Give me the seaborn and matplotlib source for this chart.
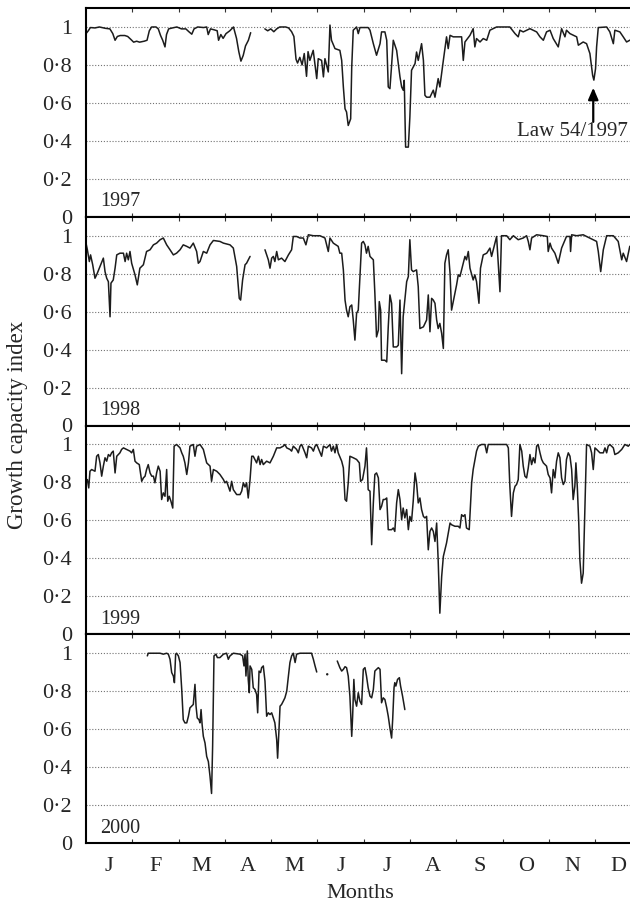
import numpy as np
import pandas as pd
import matplotlib
matplotlib.use("Agg")
import matplotlib.pyplot as plt
import seaborn as sns

# Daily growth capacity index, (day of year, index); GAP marks missing records
GAP = (np.nan, np.nan)

gci_1997 = [
    (0, 0.965), (1.5, 0.98), (2.9, 0.997), (5.9, 0.995), (8.8, 1.0), (12.7, 0.993),
    (15.7, 0.99), (17.6, 0.965), (19.1, 0.93), (20.6, 0.95), (22.5, 0.955), (25.5, 0.955),
    (27.4, 0.95), (29.4, 0.935), (31.3, 0.92), (33.3, 0.925), (35.2, 0.92), (38.2, 0.925),
    (40.1, 0.93), (41.6, 0.98), (43.1, 1.0), (46.0, 1.0), (47.5, 0.99), (49.0, 0.955),
    (50.4, 0.93), (51.9, 0.895), (52.9, 0.96), (54.3, 0.99), (56.8, 0.995), (59.7, 1.0),
    (62.7, 0.99), (65.6, 0.99), (67.6, 0.975), (69.5, 0.962), (71.0, 0.99), (73.4, 1.0),
    (77.3, 0.997), (79.3, 1.0), (80.3, 0.96), (81.8, 0.99), (84.2, 0.985), (86.2, 0.98),
    (87.1, 0.93), (88.6, 0.96), (90.1, 0.94), (92.0, 0.965), (94.5, 0.98), (96.9, 1.0),
    (98.9, 0.94), (100.4, 0.87), (101.8, 0.82), (103.3, 0.85), (104.8, 0.9), (106.7, 0.93),
    (108.2, 0.97),
    GAP,
    (117.5, 0.99), (119.4, 0.98), (121.4, 0.99), (123.4, 0.975), (125.3, 0.99), (127.3, 1.0),
    (131.2, 1.0), (133.1, 0.995), (135.1, 0.975), (136.6, 0.95), (138.0, 0.83), (139.0, 0.81),
    (140.5, 0.84), (142.0, 0.8), (143.4, 0.86), (144.9, 0.74), (145.9, 0.87), (147.1, 0.824),
    (149.3, 0.877), (151.6, 0.728), (152.6, 0.833), (154.8, 0.824), (156.0, 0.737),
    (157.0, 0.833), (159.2, 0.763), (160.3, 1.01), (161.3, 0.93), (163.6, 0.886),
    (166.8, 0.877), (168.0, 0.824), (169.1, 0.684), (170.2, 0.569), (171.2, 0.552),
    (172.3, 0.481), (173.9, 0.516), (174.6, 0.789), (175.6, 0.983), (177.8, 1.0),
    (178.9, 0.965), (180.0, 0.997), (185.4, 0.997), (186.6, 0.983), (188.8, 0.912),
    (190.9, 0.851), (193.2, 0.912), (194.2, 0.974), (196.4, 0.974), (197.6, 0.93),
    (198.6, 0.684), (199.7, 0.675), (200.8, 0.798), (201.9, 0.93), (204.1, 0.877),
    (206.3, 0.737), (207.4, 0.684), (208.4, 0.667), (209.1, 0.719), (210.0, 0.367),
    (211.8, 0.367), (212.8, 0.525), (213.9, 0.772), (216.2, 0.807), (217.2, 0.868),
    (218.3, 0.824), (220.5, 0.912), (221.7, 0.824), (222.7, 0.64), (223.8, 0.63),
    (226.0, 0.63), (228.2, 0.667), (229.3, 0.63), (231.4, 0.728), (232.5, 0.684),
    (234.8, 0.824), (236.9, 0.948), (238.0, 0.886), (239.2, 0.956), (241.3, 0.948),
    (246.8, 0.948), (247.9, 0.824), (249.0, 0.921), (252.3, 0.956), (254.4, 0.991),
    (255.5, 0.895), (256.6, 0.939), (258.9, 0.921), (261.0, 0.939), (263.3, 0.93),
    (265.4, 0.983), (269.8, 1.0), (278.5, 1.0), (281.9, 0.965), (284.0, 0.948),
    (285.1, 0.983), (287.3, 0.974), (291.7, 0.991), (296.1, 0.974), (298.3, 0.948),
    (300.5, 0.93), (302.6, 0.974), (304.9, 0.983), (307.0, 0.939), (310.3, 0.895),
    (312.5, 0.991), (314.7, 0.948), (315.7, 0.983), (318.0, 0.965), (322.4, 0.948),
    (323.5, 0.904), (326.7, 0.921), (328.9, 0.912), (331.1, 0.86), (332.9, 0.745),
    (333.7, 0.72), (334.8, 0.78), (335.5, 0.895), (336.6, 0.997), (342.1, 1.0),
    (344.2, 0.974), (346.5, 0.912), (347.5, 0.983), (350.8, 0.974), (353.0, 0.948),
    (355.2, 0.921), (357.3, 0.93), (360.0, 0.94),
]

gci_1998 = [
    (0, 0.961), (0.9, 0.926), (2.2, 0.864), (3.0, 0.899), (4.4, 0.847), (5.9, 0.776),
    (7.0, 0.794), (9.2, 0.838), (11.4, 0.882), (12.5, 0.811), (13.6, 0.776), (14.7, 0.758),
    (15.8, 0.573), (16.4, 0.75), (17.9, 0.767), (19.1, 0.829), (20.2, 0.899), (22.3, 0.908),
    (24.6, 0.908), (25.7, 0.864), (26.7, 0.908), (27.8, 0.873), (28.9, 0.917), (30.0, 0.855),
    (32.2, 0.794), (33.7, 0.741), (35.4, 0.829), (37.7, 0.847), (39.8, 0.917), (42.1, 0.926),
    (44.3, 0.952), (46.4, 0.961), (48.7, 0.979), (50.8, 0.988), (53.0, 0.952), (55.2, 0.926),
    (57.4, 0.899), (59.5, 0.908), (61.8, 0.926), (63.9, 0.952), (66.2, 0.944), (68.3, 0.935),
    (70.5, 0.961), (72.7, 0.917), (73.8, 0.855), (74.9, 0.864), (77.1, 0.917), (79.3, 0.908),
    (81.5, 0.952), (83.7, 0.975), (88.0, 0.97), (90.3, 0.961), (94.6, 0.952), (96.8, 0.935),
    (99.0, 0.838), (100.7, 0.67), (101.6, 0.661), (102.9, 0.767), (104.5, 0.847),
    (105.5, 0.855), (107.8, 0.891),
    GAP,
    (117.6, 0.926), (119.8, 0.873), (120.9, 0.829), (122.0, 0.882), (123.1, 0.891),
    (124.1, 0.864), (125.3, 0.917), (126.4, 0.873), (128.5, 0.882), (130.7, 0.864),
    (133.0, 0.899), (135.1, 0.926), (136.2, 0.996), (138.4, 0.996), (140.6, 0.988),
    (142.8, 0.988), (144.5, 0.952), (146.1, 1.005), (149.4, 1.0), (153.7, 1.0), (157.0, 0.988),
    (159.2, 0.917), (160.3, 0.988), (162.5, 0.961), (165.7, 0.944), (166.8, 0.908),
    (168.0, 0.908), (169.1, 0.82), (170.2, 0.661), (171.2, 0.608), (172.3, 0.573),
    (173.4, 0.626), (174.6, 0.635), (175.6, 0.556), (176.7, 0.45), (177.8, 0.591),
    (178.9, 0.608), (180.0, 0.785), (181.1, 0.961), (182.2, 0.97), (183.3, 0.952),
    (184.3, 0.908), (185.4, 0.944), (186.6, 0.891), (188.8, 0.873), (189.8, 0.697),
    (190.9, 0.467), (192.1, 0.503), (192.7, 0.653), (193.6, 0.608), (194.2, 0.344),
    (196.4, 0.344), (197.6, 0.335), (198.6, 0.52), (199.7, 0.688), (200.8, 0.644),
    (201.9, 0.414), (204.1, 0.414), (205.2, 0.423), (206.3, 0.661), (207.4, 0.273),
    (208.4, 0.573), (209.5, 0.661), (210.7, 0.758), (211.8, 0.785), (212.8, 0.979),
    (213.9, 0.82), (215.0, 0.811), (217.2, 0.82), (218.3, 0.732), (219.4, 0.511),
    (221.7, 0.52), (223.8, 0.556), (224.9, 0.688), (226.0, 0.494), (227.1, 0.67),
    (228.2, 0.661), (229.3, 0.644), (230.4, 0.556), (231.4, 0.511), (232.5, 0.538),
    (233.7, 0.485), (234.8, 0.406), (235.8, 0.855), (236.9, 0.899), (238.0, 0.926),
    (239.2, 0.802), (240.2, 0.608), (241.3, 0.653), (243.5, 0.741), (244.6, 0.794),
    (245.7, 0.785), (247.9, 0.855), (249.0, 0.891), (250.0, 0.873), (251.2, 0.917),
    (252.3, 0.829), (254.4, 0.767), (255.5, 0.794), (256.6, 0.758), (258.2, 0.644),
    (259.2, 0.829), (261.0, 0.899), (263.3, 0.908), (265.4, 0.935), (266.5, 0.891),
    (269.8, 0.996), (272.0, 0.705), (273.0, 1.0), (276.4, 1.0), (278.5, 0.979), (280.8, 1.0),
    (284.0, 0.979), (287.3, 0.988), (289.5, 1.0), (290.6, 0.97), (291.7, 0.926),
    (292.8, 0.988), (296.1, 1.005), (300.5, 1.0), (303.1, 0.996), (303.7, 0.917),
    (304.9, 0.961), (305.9, 0.935), (308.1, 0.908), (310.3, 0.855), (312.5, 0.935),
    (315.7, 0.996), (318.0, 0.996), (318.4, 0.917), (319.1, 1.005), (322.4, 1.0),
    (326.7, 1.005), (328.9, 0.996), (333.3, 0.979), (335.5, 0.97), (336.6, 0.917),
    (338.2, 0.811), (339.9, 0.926), (342.1, 1.0), (346.5, 1.0), (349.7, 0.97), (352.0, 0.873),
    (353.0, 0.908), (355.2, 0.864), (357.3, 0.944), (360.0, 0.95),
]

gci_1999 = [
    (0, 0.806), (0.9, 0.815), (1.8, 0.771), (2.6, 0.859), (3.7, 0.868), (5.9, 0.859),
    (7.0, 0.938), (8.1, 0.947), (9.2, 0.903), (10.3, 0.833), (11.4, 0.886), (12.5, 0.93),
    (13.6, 0.912), (14.7, 0.947), (15.8, 0.938), (16.8, 0.956), (17.9, 0.965), (19.1, 0.85),
    (20.2, 0.938), (22.3, 0.956), (23.4, 0.974), (24.6, 0.982), (26.7, 0.974), (28.9, 0.965),
    (30.0, 0.956), (31.1, 0.974), (32.2, 0.912), (33.3, 0.903), (35.0, 0.894), (36.6, 0.806),
    (37.7, 0.824), (38.8, 0.833), (39.8, 0.868), (40.9, 0.894), (42.1, 0.85), (43.2, 0.833),
    (44.3, 0.833), (45.3, 0.798), (46.4, 0.85), (47.5, 0.886), (48.7, 0.859), (49.7, 0.71),
    (50.8, 0.745), (51.9, 0.727), (53.0, 0.868), (53.7, 0.701), (54.7, 0.727), (55.8, 0.701),
    (57.0, 0.665), (57.9, 0.991), (59.5, 1.0), (61.8, 0.982), (62.9, 0.956), (63.9, 0.938),
    (65.0, 0.903), (66.2, 0.842), (67.3, 0.903), (68.3, 0.991), (70.5, 1.0), (71.6, 0.938),
    (72.7, 0.991), (74.9, 1.0), (77.1, 0.974), (78.2, 0.938), (79.3, 0.903), (81.5, 0.886),
    (82.5, 0.806), (83.7, 0.868), (85.9, 0.859), (88.0, 0.842), (90.3, 0.815), (91.3, 0.798),
    (92.4, 0.806), (94.6, 0.754), (95.7, 0.806), (96.8, 0.762), (99.0, 0.736), (101.2, 0.736),
    (102.3, 0.754), (103.4, 0.798), (104.5, 0.776), (105.5, 0.798), (106.6, 0.718),
    (107.8, 0.815), (108.9, 0.938), (109.9, 0.938), (112.1, 0.903), (113.3, 0.938),
    (114.4, 0.894), (115.4, 0.921), (116.5, 0.894), (118.7, 0.912), (120.9, 0.903),
    (123.1, 0.938), (125.3, 0.982), (127.5, 0.982), (129.6, 0.991), (130.7, 1.0),
    (131.9, 0.982), (134.0, 0.974), (135.1, 0.965), (136.2, 0.991), (138.4, 0.974),
    (139.5, 0.956), (140.6, 0.991), (141.7, 1.0), (143.9, 0.956), (145.0, 0.93),
    (146.1, 0.991), (148.2, 0.982), (149.4, 0.965), (150.5, 0.991), (151.6, 1.0),
    (154.8, 0.938), (156.0, 0.991), (158.1, 0.982), (160.3, 1.0), (161.3, 0.965),
    (162.5, 0.991), (163.6, 0.956), (164.7, 1.0), (165.7, 0.956), (168.0, 0.912),
    (169.1, 0.877), (170.2, 0.71), (171.2, 0.701), (172.3, 0.798), (173.4, 0.938),
    (175.6, 0.93), (177.8, 0.921), (179.6, 0.903), (180.4, 0.806), (181.7, 0.815),
    (183.3, 0.886), (184.3, 0.982), (184.8, 0.903), (185.4, 0.762), (186.6, 0.754),
    (187.7, 0.472), (188.8, 0.692), (189.8, 0.842), (190.9, 0.85), (192.1, 0.824),
    (193.2, 0.657), (194.2, 0.674), (195.3, 0.71), (196.4, 0.71), (197.6, 0.718),
    (198.6, 0.551), (200.8, 0.551), (201.9, 0.56), (202.9, 0.542), (204.1, 0.692),
    (205.2, 0.762), (206.3, 0.71), (207.4, 0.604), (208.4, 0.665), (209.5, 0.613),
    (210.7, 0.657), (211.8, 0.551), (212.8, 0.621), (213.9, 0.595), (215.0, 0.701),
    (216.2, 0.85), (217.2, 0.798), (218.3, 0.692), (219.4, 0.718), (220.5, 0.657),
    (221.7, 0.621), (222.7, 0.613), (223.8, 0.621), (224.9, 0.445), (226.0, 0.542),
    (227.1, 0.56), (228.2, 0.542), (229.3, 0.489), (230.4, 0.586), (231.4, 0.39),
    (232.5, 0.111), (233.7, 0.305), (234.8, 0.41), (236.9, 0.481), (239.2, 0.586),
    (240.2, 0.577), (242.4, 0.569), (244.6, 0.569), (245.7, 0.56), (246.8, 0.63),
    (247.9, 0.621), (249.0, 0.63), (250.0, 0.56), (251.8, 0.551), (253.4, 0.798),
    (254.4, 0.868), (256.6, 0.965), (257.8, 0.991), (259.9, 1.0), (262.1, 1.0),
    (263.3, 0.956), (264.3, 1.0), (276.4, 1.0), (277.5, 0.982), (278.5, 0.78),
    (279.6, 0.621), (280.8, 0.745), (281.9, 0.78), (282.9, 0.789), (284.0, 0.815),
    (285.1, 1.0), (286.3, 0.965), (287.3, 0.886), (288.4, 0.833), (289.5, 0.824),
    (290.6, 0.877), (291.7, 0.947), (292.8, 0.894), (293.9, 0.93), (295.0, 0.903),
    (296.1, 0.991), (297.1, 1.0), (298.3, 0.956), (299.4, 0.921), (300.5, 0.903),
    (302.6, 0.886), (303.7, 0.842), (304.9, 0.824), (305.9, 0.745), (307.0, 0.868),
    (308.1, 0.824), (309.2, 0.912), (310.3, 0.956), (311.4, 0.93), (312.5, 0.824),
    (313.6, 0.789), (314.7, 0.806), (315.7, 0.921), (316.9, 0.956), (318.0, 0.938),
    (319.1, 0.868), (320.1, 0.71), (321.2, 0.78), (321.9, 0.903), (322.8, 0.78),
    (323.7, 0.604), (324.5, 0.393), (325.6, 0.269), (326.7, 0.322), (327.9, 0.692),
    (328.9, 1.0), (331.1, 0.991), (332.2, 0.956), (333.3, 0.868), (334.4, 0.982),
    (335.5, 0.974), (337.7, 0.956), (339.9, 0.956), (341.0, 0.982), (342.1, 0.956),
    (343.1, 0.991), (344.2, 1.0), (346.5, 0.982), (347.5, 0.947), (349.7, 0.956),
    (352.0, 0.974), (354.1, 1.0), (356.3, 0.991), (357.3, 1.0), (360.0, 1.0),
]

gci_2000 = [
    (40.3, 0.986), (40.9, 1.0), (48.7, 1.0), (50.8, 0.995), (53.0, 1.0), (54.1, 0.995),
    (55.2, 0.968), (56.3, 0.898), (57.4, 0.88), (58.1, 0.845), (58.9, 0.995), (59.5, 1.0),
    (60.7, 0.986), (61.8, 0.951), (62.9, 0.809), (63.9, 0.65), (65.0, 0.633), (66.2, 0.633),
    (67.3, 0.668), (68.3, 0.712), (69.4, 0.721), (70.5, 0.73), (71.6, 0.836), (72.3, 0.721),
    (73.1, 0.659), (74.2, 0.65), (74.9, 0.633), (75.6, 0.703), (76.3, 0.624), (77.1, 0.562),
    (78.2, 0.527), (79.3, 0.456), (80.4, 0.429), (81.5, 0.35), (82.5, 0.261), (83.2, 0.509),
    (84.1, 0.986), (85.4, 0.995), (86.3, 0.977), (88.0, 0.977), (90.3, 0.995), (92.4, 1.0),
    (93.5, 0.968), (94.6, 0.986), (96.8, 1.0), (101.2, 0.995), (102.9, 0.986), (103.8, 0.933),
    (104.5, 0.995), (105.1, 0.88), (106.0, 1.012), (106.6, 0.862), (107.3, 0.792),
    (107.8, 0.933), (108.9, 0.915), (109.9, 0.818), (111.0, 0.809), (112.1, 0.783),
    (112.8, 0.686), (113.7, 0.906), (114.7, 0.898), (115.4, 0.924), (116.5, 0.933),
    (117.6, 0.853), (118.7, 0.668), (119.8, 0.686), (120.9, 0.677), (122.0, 0.686),
    (123.1, 0.659), (124.1, 0.633), (125.3, 0.544), (125.9, 0.447), (126.8, 0.597),
    (127.5, 0.721), (128.5, 0.73), (129.6, 0.747), (130.7, 0.765), (131.9, 0.8),
    (133.0, 0.88), (134.0, 0.951), (135.1, 0.986), (136.2, 1.0), (137.4, 0.951),
    (138.4, 0.995), (140.6, 1.0), (148.2, 1.0), (149.4, 0.968), (150.5, 0.933),
    (151.6, 0.901),
    GAP,
    (158.5, 0.889),
    GAP,
    (165.1, 0.959), (166.8, 0.924), (168.0, 0.906), (169.1, 0.915), (170.2, 0.929),
    (171.2, 0.924), (172.3, 0.88), (173.4, 0.774), (174.6, 0.562), (175.2, 0.668),
    (176.0, 0.862), (176.7, 0.756), (177.8, 0.721), (178.9, 0.792), (180.0, 0.747),
    (181.1, 0.73), (182.2, 0.915), (183.3, 0.924), (184.3, 0.88), (185.4, 0.818),
    (186.6, 0.774), (187.7, 0.765), (188.8, 0.809), (189.8, 0.906), (190.9, 0.915),
    (192.1, 0.924), (193.2, 0.915), (194.2, 0.739), (195.3, 0.765), (196.4, 0.756),
    (197.6, 0.712), (198.6, 0.668), (199.7, 0.606), (200.8, 0.553), (201.5, 0.65),
    (202.4, 0.818), (202.9, 0.845), (203.6, 0.827), (204.7, 0.862), (205.9, 0.871),
    (206.7, 0.827), (208.0, 0.774), (209.5, 0.703),
]

years = ["1997", "1998", "1999", "2000"]
series = [gci_1997, gci_1998, gci_1999, gci_2000]

month_labels = ["J", "F", "M", "A", "M", "J", "J", "A", "S", "O", "N", "D"]
y_ticks = [0, 0.2, 0.4, 0.6, 0.8, 1.0]
y_tick_labels = ["0", "0\u00b72", "0\u00b74", "0\u00b76", "0\u00b78", "1"]

law_day = 333.3
law_text = "Law 54/1997"

sns.set_style("white")
plt.rcParams["font.family"] = ["Liberation Serif", "DejaVu Serif"]

W, H = 630, 906
fig = plt.figure(figsize=(W / 100, H / 100), dpi=100)

left_px, top_px, bottom_px = 86, 8, 843
axis_len_px = 555.5          # full year length; the December edge runs past the frame
panel_h = (bottom_px - top_px) / 4

month_len = 365 / 12
month_edges = [month_len * k for k in range(1, 12)]
month_mids = [month_len * (k + 0.5) for k in range(12)]

line_color = "#1c1c1c"

for i, (year, pairs) in enumerate(zip(years, series)):
    y0 = H - (top_px + (i + 1) * panel_h)
    ax = fig.add_axes([left_px / W, y0 / H, axis_len_px / W, panel_h / H])

    df = pd.DataFrame(pairs, columns=["day", "gci"])
    df["segment"] = df["gci"].isna().cumsum()
    df = df.dropna()
    sizes = df.groupby("segment")["day"].transform("size")
    lines = df[sizes > 1]
    dots = df[sizes == 1]

    sns.lineplot(data=lines, x="day", y="gci", units="segment", estimator=None,
                 sort=False, color=line_color, linewidth=1.1, ax=ax, legend=False)
    if len(dots):
        sns.scatterplot(data=dots, x="day", y="gci", s=3, color=line_color,
                        edgecolor="none", ax=ax, legend=False)

    ax.set_xlim(0, 365)
    ax.set_ylim(0, 1.1)
    ax.set_xlabel("")
    ax.set_ylabel("")

    ax.set_yticks(y_ticks)
    ax.set_yticklabels(y_tick_labels)
    ax.tick_params(axis="y", length=0, pad=10, labelsize=16)
    ax.yaxis.grid(True, linestyle=(0, (1, 1.6)), linewidth=0.8, color="0.45")
    ax.xaxis.grid(False)

    ax.set_xticks(month_edges)
    ax.set_xticklabels([])
    ax.set_xticks(month_mids, minor=True)
    ax.tick_params(axis="x", which="major", direction="in", length=3, width=0.8,
                   top=True, bottom=True, color="0.2")
    ax.tick_params(axis="x", which="minor", length=0, top=False, bottom=False)
    if i == len(years) - 1:
        ax.set_xticklabels(month_labels, minor=True)
        ax.tick_params(axis="x", which="minor", pad=10, labelsize=16)
    else:
        ax.set_xticklabels([], minor=True)

    for side in ax.spines.values():
        side.set_visible(True)
        side.set_color("black")
        side.set_linewidth(1.5)

    ax.text(0.025, 0.05, year, transform=ax.transAxes, ha="left", va="baseline",
            fontsize=14.5)

    if year == "1997":
        ax.annotate("", xy=(law_day, 0.68), xytext=(law_day, 0.5),
                    arrowprops=dict(arrowstyle="-|>,head_length=0.7,head_width=0.3",
                                    color="black", lw=1.6, shrinkA=0, shrinkB=0))
        ax.text(356, 0.447, law_text, ha="right", va="center", fontsize=15)

fig.text(18 / W, 1 - 425 / H, "Growth capacity index", rotation=90,
         ha="center", va="center", fontsize=16.5)
fig.text(360 / W, 1 - 894 / H, "Months", ha="center", va="center", fontsize=16)

fig.savefig("out.png", dpi=100)
